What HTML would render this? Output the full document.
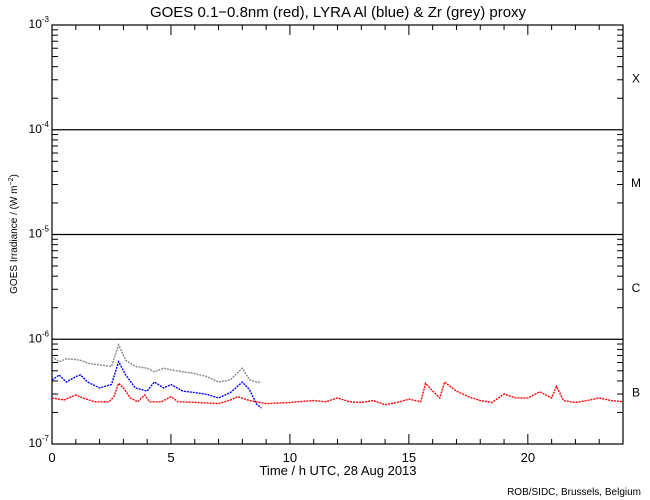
<!DOCTYPE html>
<html><head><meta charset="utf-8"><style>
body{margin:0;background:#fff}
svg{display:block;font-family:"Liberation Sans",sans-serif}
</style></head><body>
<svg id="chart" width="650" height="500" viewBox="0 0 650 500" xmlns="http://www.w3.org/2000/svg">
<rect width="650" height="500" fill="#fff"/>
<text x="338" y="17" font-size="15" text-anchor="middle">GOES 0.1−0.8nm (red), LYRA Al (blue) &amp; Zr (grey) proxy</text>
<text x="338" y="475" font-size="13" text-anchor="middle">Time / h UTC, 28 Aug 2013</text>
<text transform="translate(17,234) rotate(-90)" font-size="10" text-anchor="middle">GOES Irradiance / (W m<tspan dy="-4" font-size="7">−2</tspan><tspan dy="4">)</tspan></text>
<text x="641" y="495" font-size="10" text-anchor="end">ROB/SIDC, Brussels, Belgium</text>
<g id="axes"></g>
<g id="series"></g>
</svg>
<script>
// values in units of 1e-7 W m^-2
const hoursRed=[0,0.5,1,1.3,1.8,2.4,2.6,2.8,3,3.3,3.6,3.9,4.1,4.6,5,5.3,6,7,7.5,7.8,8.3,9,10,11,11.5,12,12.5,13,13.5,14,14.5,15,15.5,15.7,16,16.3,16.5,17,17.5,18,18.5,19,19.5,20,20.5,21,21.2,21.5,22,22.5,23,23.5,24];
const redVals=[2.75,2.63,2.94,2.75,2.53,2.53,2.83,3.8,3.43,2.75,2.53,2.94,2.53,2.53,2.83,2.53,2.5,2.43,2.63,2.83,2.6,2.43,2.49,2.6,2.53,2.75,2.53,2.49,2.6,2.37,2.49,2.68,2.53,3.8,3.2,2.75,3.9,3.2,2.83,2.6,2.49,3.0,2.75,2.75,3.15,2.75,3.55,2.6,2.49,2.6,2.75,2.6,2.53];
const hoursLyra=[0,0.3,0.6,1,1.2,1.5,2,2.5,2.8,3.1,3.5,4,4.3,4.7,5,5.5,6,6.5,7,7.5,8,8.3,8.6,8.8];
const blueVals=[4.08,4.56,3.9,4.4,4.56,3.9,3.43,3.7,6.1,4.56,3.43,3.2,3.9,3.43,3.7,3.2,3.1,2.98,2.75,3.1,3.9,3.3,2.4,2.2];
const greyVals=[6.8,6.1,6.5,6.4,6.3,5.9,5.7,5.5,8.85,6.3,5.5,5.3,4.9,5.3,5.1,4.9,4.7,4.4,3.9,4.1,5.3,4.1,3.9,3.9];
const xTicks=[0,5,10,15,20];
const yDecades=[-7,-6,-5,-4,-3];
const classLabels=["B","C","M","X"];
const L=52,R=623,T=25,B=444;
const xs=h=>L+(R-L)*h/24;
const ys=v=>B-(B-T)*(Math.log10(v)+7)/4;
const NS="http://www.w3.org/2000/svg";
const ax=document.getElementById('axes'),se=document.getElementById('series');
function mk(tag,attrs,parent){const e=document.createElementNS(NS,tag);for(const k in attrs)e.setAttribute(k,attrs[k]);parent.appendChild(e);return e;}
const frame=mk('rect',{x:L,y:T,width:R-L,height:B-T,fill:'none',stroke:'#000','stroke-width':1.2},ax);


yDecades.forEach((d,i)=>{
  const y=ys(Math.pow(10,d));
  if(d>-7&&d<-3){const g=mk('line',{x1:L,x2:R,y1:y,y2:y,stroke:'#000','stroke-width':1.2},ax);
    
    }
  const t=mk('text',{x:L-3,y:y+3,'font-size':12,'text-anchor':'end'},ax);
  
  
  t.innerHTML='10<tspan dy="-6" font-size="8">'+d+'</tspan>';
  if(d<-3){for(let m=2;m<=9;m++){const yy=ys(m*Math.pow(10,d));
    mk('line',{x1:L,x2:L+6,y1:yy,y2:yy,stroke:'#000'},ax);
    mk('line',{x1:R-6,x2:R,y1:yy,y2:yy,stroke:'#000'},ax);}
    const c=mk('text',{x:636,y:ys(3.16*Math.pow(10,d))+5,'font-size':12,'text-anchor':'middle'},ax);
    
    
    c.textContent=classLabels[i];}
});
for(let h=1;h<24;h++){const x=xs(h);const len=(h%5===0)?10:5;
  mk('line',{x1:x,x2:x,y1:B,y2:B-len,stroke:'#000'},ax);
  mk('line',{x1:x,x2:x,y1:T,y2:T+len,stroke:'#000'},ax);}
xTicks.forEach(h=>{const t=mk('text',{x:xs(h),y:462,'font-size':13,'text-anchor':'middle'},ax);
  
  
  t.textContent=h;});
function drawSeries(hs,vs,col,name){const p=mk('polyline',{points:hs.map((h,i)=>xs(h)+','+ys(vs[i]*1e-7)).join(' '),fill:'none',stroke:col,'stroke-width':1.4,'stroke-dasharray':'2 1'},se);
  
  }
drawSeries(hoursLyra,greyVals,'#888','lyra-zr-series');
drawSeries(hoursLyra,blueVals,'#0000ff','lyra-al-series');
drawSeries(hoursRed,redVals,'#ff0000','goes-series');
</script>
</body></html>
